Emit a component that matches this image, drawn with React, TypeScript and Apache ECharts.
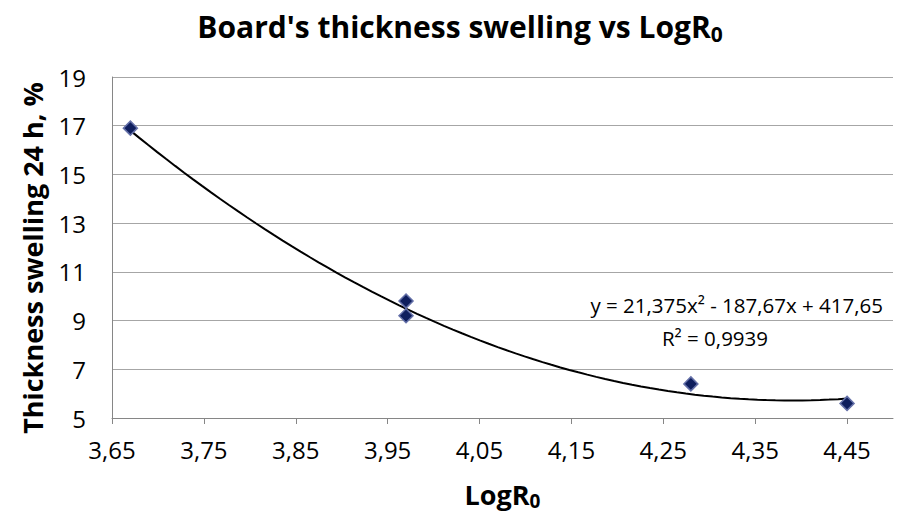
import { useEffect, useRef } from "react";
import * as echarts from "echarts";

// Measured board thickness swelling (24 h) against the severity factor LogR0
const logR0 = [3.67, 3.97, 3.97, 4.28, 4.45];
const swelling = [16.9, 9.8, 9.2, 6.4, 5.6];

// Second-order polynomial trendline: y = a·x² + b·x + c
const trendCoef = [21.375, -187.67, 417.65];
const equationText = "y = 21,375x² - 187,67x + 417,65";
const r2Text = "R² = 0,9939";

const xTicks = [3.65, 3.75, 3.85, 3.95, 4.05, 4.15, 4.25, 4.35, 4.45];
const yTicks = [5, 7, 9, 11, 13, 15, 17, 19];

const FONT = "'Open Sans', 'Noto Sans', sans-serif";

function trendPoints(): number[][] {
  const lo = Math.min(...logR0);
  const hi = Math.max(...logR0);
  const steps = 80;
  const pts: number[][] = [];
  for (let i = 0; i <= steps; i++) {
    const x = lo + ((hi - lo) * i) / steps;
    const y = trendCoef[0] * x * x + trendCoef[1] * x + trendCoef[2];
    pts.push([x, y]);
  }
  return pts;
}

const comma = (v: number, d: number) => v.toFixed(d).replace(".", ",");

export default function App() {
  const ref = useRef<HTMLDivElement>(null);

  useEffect(() => {
    document.body.style.margin = "0";
    if (!ref.current) return;
    const chart = echarts.init(ref.current, null, { renderer: "svg" });
    chart.setOption({
      animation: false,
      backgroundColor: "#ffffff",
      textStyle: { fontFamily: FONT },
      grid: {
        left: 112,
        right: 6,
        top: 77,
        bottom: 99,
        containLabel: false,
        outerBoundsMode: "none",
      },
      xAxis: {
        type: "value",
        min: 3.65,
        max: 4.5,
        name: "{m|LogR}{s|0}",
        nameLocation: "middle",
        nameGap: 60,
        nameTextStyle: {
          rich: {
            m: { fontFamily: FONT, fontWeight: "bold", fontSize: 27, lineHeight: 32, color: "#000" },
            s: { fontFamily: FONT, fontWeight: "bold", fontSize: 19, lineHeight: 6, verticalAlign: "bottom", color: "#000" },
          },
        },
        axisLine: { show: true, lineStyle: { color: "#868686", width: 1 } },
        axisTick: { show: true, customValues: xTicks, length: 6, lineStyle: { color: "#868686" } },
        axisLabel: {
          customValues: xTicks,
          formatter: (v: number) => comma(v, 2),
          fontFamily: FONT,
          fontSize: 24,
          color: "#000",
          margin: 19,
        },
        splitLine: { show: false },
      },
      yAxis: {
        type: "value",
        min: 5,
        max: 19,
        axisLine: { show: true, lineStyle: { color: "#868686", width: 1 } },
        axisTick: { show: false, customValues: yTicks },
        axisLabel: {
          customValues: yTicks,
          fontFamily: FONT,
          fontSize: 24,
          color: "#000",
          margin: 26,
        },
        splitLine: { show: true, lineStyle: { color: "#a6a6a6", width: 1 } },
      },
      series: [
        {
          name: "Trendline",
          type: "line",
          data: trendPoints(),
          showSymbol: false,
          symbol: "none",
          lineStyle: { color: "#000000", width: 2 },
          z: 2,
        },
        {
          name: "Thickness swelling",
          type: "scatter",
          data: logR0.map((x, i) => [x, swelling[i]]),
          symbol: "diamond",
          symbolSize: 14,
          itemStyle: { color: "#0f1f5e", borderColor: "#6470a8", borderWidth: 1.5, opacity: 1 },
          z: 3,
        },
      ],
      graphic: [
        {
          type: "text",
          x: 460,
          y: 26,
          style: {
            text: "{m|Board's thickness swelling vs LogR}{s|0}",
            textAlign: "center",
            textVerticalAlign: "middle",
            rich: {
              m: { fontFamily: FONT, fontWeight: "bold", fontSize: 30, lineHeight: 36, fill: "#000" },
              s: { fontFamily: FONT, fontWeight: "bold", fontSize: 21, lineHeight: 6, verticalAlign: "bottom", fill: "#000" },
            },
          },
        },
        {
          type: "text",
          x: 32,
          y: 258,
          rotation: Math.PI / 2,
          style: {
            text: "Thickness swelling 24 h, %",
            fontFamily: FONT,
            fontWeight: "bold",
            fontSize: 27,
            fill: "#000",
            textAlign: "center",
            textVerticalAlign: "middle",
          },
        },
        {
          type: "text",
          x: 883,
          y: 305,
          style: {
            text: equationText,
            fontFamily: FONT,
            fontSize: 20.5,
            fill: "#000",
            textAlign: "right",
            textVerticalAlign: "middle",
          },
        },
        {
          type: "text",
          x: 715,
          y: 338,
          style: {
            text: r2Text,
            fontFamily: FONT,
            fontSize: 20.5,
            fill: "#000",
            textAlign: "center",
            textVerticalAlign: "middle",
          },
        },
      ],
    });
    return () => chart.dispose();
  }, []);

  return <div ref={ref} style={{ width: 899, height: 517 }} />;
}
